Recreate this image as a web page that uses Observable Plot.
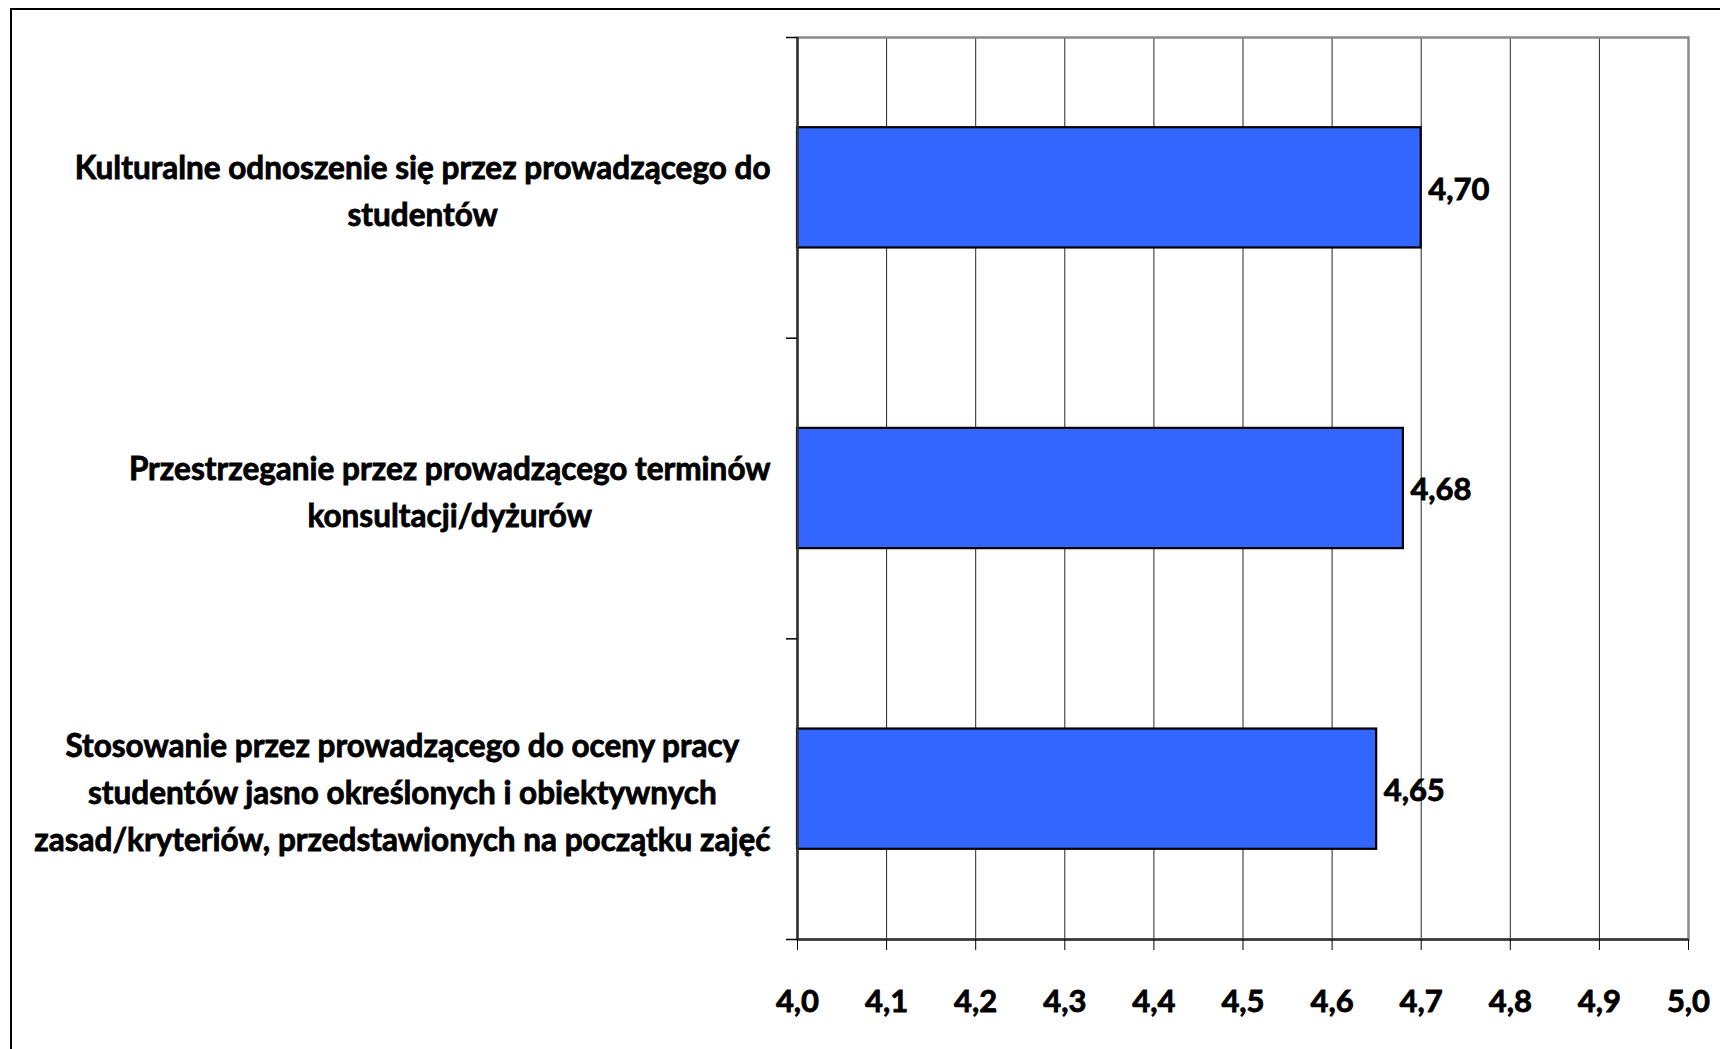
<!DOCTYPE html>
<html>
<head>
<meta charset="utf-8">
<script src="https://cdn.jsdelivr.net/npm/d3@7"></script>
<script src="https://cdn.jsdelivr.net/npm/@observablehq/plot@0.6"></script>
<style>
  html, body { margin: 0; padding: 0; background: #fff; overflow: hidden; }
  #chart { position: absolute; left: 0; top: 0; }
  #chart text { stroke: #000; stroke-width: 0.8px; paint-order: stroke; }
  #outer { position: absolute; left: 10px; top: 8px; width: 2000px; height: 2000px;
           border: 2px solid #000; pointer-events: none; }
</style>
</head>
<body>
<div id="chart"></div>
<div id="outer"></div>
<script>
const categories = [
  "Kulturalne odnoszenie się przez prowadzącego do\nstudentów",
  "Przestrzeganie przez prowadzącego terminów\nkonsultacji/dyżurów",
  "Stosowanie przez prowadzącego do oceny pracy\nstudentów jasno określonych i obiektywnych\nzasad/kryteriów, przedstawionych na początku zajęć"
];
const values = [4.70, 4.68, 4.65];
const valueLabels = ["4,70", "4,68", "4,65"];
const xTicks = [4.0, 4.1, 4.2, 4.3, 4.4, 4.5, 4.6, 4.7, 4.8, 4.9, 5.0];
const xTickLabels = ["4,0", "4,1", "4,2", "4,3", "4,4", "4,5", "4,6", "4,7", "4,8", "4,9", "5,0"];
const bandEdges = [0, 1, 2, 3];

const data = categories.map((c, i) => ({i, label: c, value: values[i], vlabel: valueLabels[i]}));

const font = "Lato, 'Open Sans', sans-serif";
const fs = 31;
const fsCat = 31.5;

const svg = Plot.plot({
  width: 1720,
  height: 1049,
  marginLeft: 797,
  marginRight: 32,
  marginTop: 37,
  marginBottom: 110,
  style: {fontFamily: font, fontSize: fs + "px", fontWeight: "bold", background: "transparent", color: "#000"},
  x: {domain: [4, 5]},
  y: {domain: [0, 3], reverse: true},
  marks: [
    Plot.gridX(xTicks, {stroke: "#000", strokeOpacity: 0.85, strokeWidth: 1}),
    Plot.frame({stroke: "#8a8a8a", strokeWidth: 2.5}),
    Plot.rectX(data, {
      x1: () => 4, x2: "value",
      y1: d => d.i + 0.3, y2: d => d.i + 0.7,
      fill: "#3366FF", stroke: "#000", strokeWidth: 2.2
    }),
    Plot.ruleX([4], {stroke: "#333", strokeWidth: 2.5}),
    Plot.ruleY([3], {stroke: "#333", strokeWidth: 2.5}),
    Plot.axisY(bandEdges, {tickSize: 11, tickFormat: () => "", label: null, stroke: "#000", strokeWidth: 1.5}),
    Plot.axisX(xTicks, {
      tickSize: 11, tickPadding: 39, stroke: "#000", strokeWidth: 1, label: null,
      tickFormat: d => xTickLabels[xTicks.indexOf(d)],
      fontSize: fs, fontWeight: "bold", fill: "#000"
    }),
    Plot.text(data, {
      x: "value", y: d => d.i + 0.5, text: "vlabel",
      textAnchor: "start", dx: 7, dy: 2, fontSize: fs, fontWeight: "bold", fill: "#000"
    }),
    Plot.text(data, {
      frameAnchor: "left", y: d => d.i + 0.5, text: "label",
      textAnchor: "middle", dx: -27, dy: 0, lineHeight: 1.49,
      fontSize: fsCat, fontWeight: "bold", fill: "#000"
    })
  ]
});

document.getElementById("chart").appendChild(svg);

// center each multi-line label block on itself, with its right edge next to the axis
const firstLines = categories.map(c => c.split("\n")[0]);
svg.querySelectorAll("text").forEach(t => {
  const first = t.querySelector("tspan");
  if (!first || !firstLines.includes(first.textContent)) return;
  const b = t.getBBox();
  const shift = -(b.x + b.width);
  t.setAttribute("transform", (t.getAttribute("transform") || "") + ` translate(${shift},0)`);
});
</script>
</body>
</html>
